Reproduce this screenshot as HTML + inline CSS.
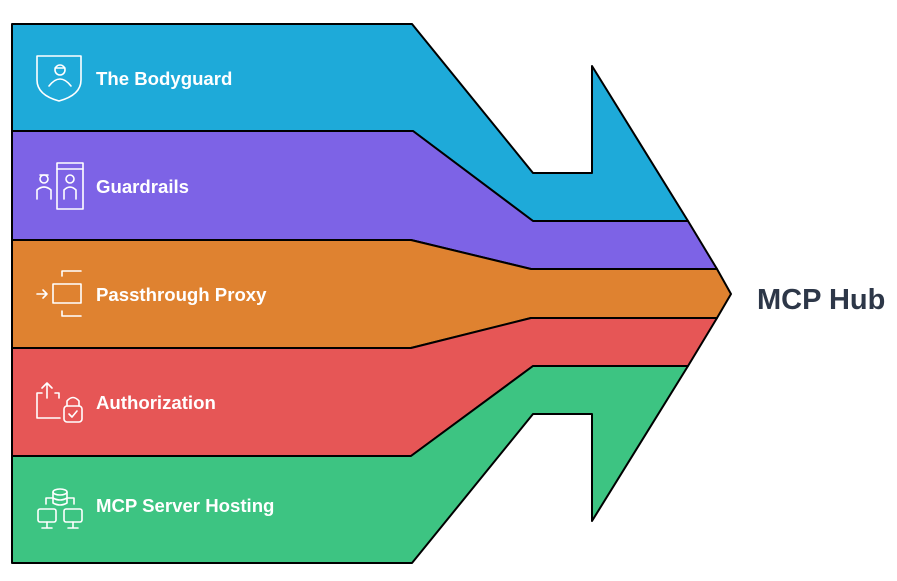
<!DOCTYPE html>
<html><head><style>
html,body{margin:0;padding:0;background:#fff;width:897px;height:581px;overflow:hidden}
svg{display:block}
text{font-family:"Liberation Sans",Arial,sans-serif;font-weight:bold}
</style></head><body>
<svg width="897" height="581" viewBox="0 0 897 581">
<g stroke="#000" stroke-width="2" stroke-linejoin="round">
<polygon fill="#1eaad9" points="12,24 412,24 533,173 592,173 592,66 688,221 533,221 413,131 12,131"/>
<polygon fill="#7d63e6" points="12,131 413,131 533,221 688,221 717,269 531,269 411,240 12,240"/>
<polygon fill="#df8230" points="12,240 411,240 531,269 717,269 731,294 717,318 531,318 411,348 12,348"/>
<polygon fill="#e65656" points="12,348 411,348 531,318 717,318 688,366 533,366 411,456 12,456"/>
<polygon fill="#3dc482" points="12,456 411,456 533,366 688,366 592,521 592,414 533,414 412,563 12,563"/>
</g>
<g fill="#fff" font-size="18.6">
<text x="96" y="85">The Bodyguard</text>
<text x="96" y="193">Guardrails</text>
<text x="96" y="301">Passthrough Proxy</text>
<text x="96" y="409">Authorization</text>
<text x="96" y="512">MCP Server Hosting</text>
</g>
<text x="757" y="309" font-size="29" fill="#2d3748">MCP Hub</text>
<g fill="none" stroke="#fff" stroke-width="1.6" stroke-linecap="round" stroke-linejoin="round">
<path d="M37,56 H81 V80 Q81,95 59,101 Q37,95 37,80 Z"/>
<circle cx="60" cy="70" r="5"/><path d="M55,68 H65"/><path d="M49,86 Q60,72 71,86"/>
<rect x="57" y="163" width="26" height="46"/><path d="M57,169 H83"/>
<circle cx="70" cy="179" r="4"/><path d="M64,199 V190 Q70,184 76,190 V199"/>
<circle cx="44" cy="179" r="4"/><path d="M40,175 H48"/><path d="M37,199 V190 Q44,184 51,190 V199"/>
<path d="M37,294 H47 M43,290 L47,294 L43,298"/>
<path d="M62,271 H81 M62,271 V276"/><rect x="53" y="284" width="28" height="19"/><path d="M62,311 V316 H81"/>
<path d="M47,383 V398 M42,388 L47,383 L52,388"/><path d="M42,393 H37 V418 H60"/><path d="M55,393 H59 V398"/>
<rect x="64" y="406" width="18" height="16" rx="3"/><path d="M67,406 V401 Q73,394 79,401 V406"/><path d="M69,414 L72,417 L77,411"/>
<ellipse cx="60" cy="492" rx="7" ry="3"/><path d="M53,492 V503 Q60,507 67,503 V492 M53,498 Q60,502 67,498"/>
<path d="M46,504 V498 H52 M74,504 V498 H68"/>
<rect x="38" y="509" width="18" height="13" rx="2"/><path d="M47,522 V527 M42,528 H52"/>
<rect x="64" y="509" width="18" height="13" rx="2"/><path d="M73,522 V527 M68,528 H78"/>
</g>
</svg>
</body></html>
